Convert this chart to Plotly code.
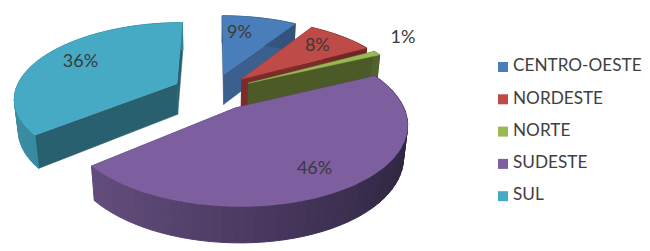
import math
import plotly.graph_objects as go

categories = ["CENTRO-OESTE", "NORDESTE", "NORTE", "SUDESTE", "SUL"]
values = [9, 8, 1, 46, 36]
labels = ["9%", "8%", "1%", "46%", "36%"]
top_colors = ["#4a7ebb", "#be4b48", "#98b954", "#7d5fa0", "#46aac4"]
face_colors = ["#3b608e", "#7b2c2a", "#4b5a26", "#3a2c4c", "#28606f"]
wall_left = ["#3f6a9e", "#9a3c3a", "#7a9644", "#6a5285", "#3a8da3"]
wall_right = ["#2f4b70", "#6a2524", "#4f5f2a", "#2e2440", "#2b7488"]
label_radius = [0.68, 0.74, 1.32, 0.78, 0.72]
label_turn = [-6, 0, -5, 2, 0]
draw_order = [4, 0, 1, 2, 3]

# projection settings
TILT = math.asin(0.46)
DIST, FOCAL = 5.0, 810
CX, CY = 213, 91.5
PULL, DEPTH = 0.25, 0.22


def project(px, py, pz):
    s, c = math.sin(TILT), math.cos(TILT)
    w = DIST + py * c - pz * s
    return CX + px * FOCAL / w, CY - (py * s + pz * c) * FOCAL / w


def hexmix(a, b, t):
    ca = [int(a[i:i + 2], 16) for i in (1, 3, 5)]
    cb = [int(b[i:i + 2], 16) for i in (1, 3, 5)]
    return "#" + "".join(f"{round(x + (y - x) * t):02x}" for x, y in zip(ca, cb))


def poly(fig, pts, color, width=0.5):
    fig.add_trace(go.Scatter(
        x=[p[0] for p in pts] + [pts[0][0]], y=[p[1] for p in pts] + [pts[0][1]],
        mode="lines", fill="toself", fillcolor=color, line=dict(color=color, width=width),
        hoverinfo="skip", showlegend=False))


fig = go.Figure()
total = sum(values)
starts, acc = [], 0
for v in values:
    starts.append(acc / total * 2 * math.pi)
    acc += v

for i in draw_order:
    a0 = starts[i]
    a1 = a0 + values[i] / total * 2 * math.pi
    mid = (a0 + a1) / 2
    ox, oy = PULL * math.sin(mid), PULL * math.cos(mid)
    rim = lambda a, z: project(ox + math.sin(a), oy + math.cos(a), z)
    apex = lambda z: project(ox, oy, z)
    # radial faces
    for a, in [(a0,), (a1,)]:
        poly(fig, [apex(0), rim(a, 0), rim(a, -DEPTH), apex(-DEPTH)], face_colors[i])
    # outer wall, shaded band by band
    n = max(2, int(math.degrees(a1 - a0) / 3))
    for k in range(n):
        b0 = a0 + (a1 - a0) * k / n
        b1 = a0 + (a1 - a0) * (k + 1) / n
        t = min(1.0, max(0.0, (1 + math.sin((b0 + b1) / 2)) / 2))
        poly(fig, [rim(b0, 0), rim(b1, 0), rim(b1, -DEPTH), rim(b0, -DEPTH)],
             hexmix(wall_left[i], wall_right[i], t), width=1)
    # top surface
    steps = max(4, int(math.degrees(a1 - a0)))
    pts = [apex(0)] + [rim(a0 + (a1 - a0) * k / steps, 0) for k in range(steps + 1)]
    poly(fig, pts, top_colors[i])

# data labels
lx, ly = [], []
for i in range(len(values)):
    mid = starts[i] + values[i] / total * math.pi
    ox, oy = PULL * math.sin(mid), PULL * math.cos(mid)
    r = label_radius[i]
    turned = mid + math.radians(label_turn[i])
    x, y = project(ox + r * math.sin(turned), oy + r * math.cos(turned), 0)
    lx.append(x)
    ly.append(y)
fig.add_trace(go.Scatter(x=lx, y=ly, mode="text", text=labels,
                         textfont=dict(family="Lato", size=18, color="#3a3a3a"),
                         hoverinfo="skip", showlegend=False))

# legend keys and names
LEG_X, LEG_TEXT_X, LEG_Y0, LEG_DY = 503, 513, 67, 32.3
leg_y = [LEG_Y0 + LEG_DY * k for k in range(5)]
fig.add_trace(go.Scatter(
    x=[LEG_X] * 5, y=leg_y, mode="markers",
    marker=dict(symbol="square", size=10, color=top_colors),
    hoverinfo="skip", showlegend=False))
fig.add_trace(go.Scatter(
    x=[LEG_TEXT_X] * 5, y=leg_y, mode="text",
    text=categories, textposition="middle right",
    textfont=dict(family="Lato", size=17.2, color="#404040"),
    hoverinfo="skip", showlegend=False))

fig.update_layout(
    width=650, height=251, margin=dict(l=0, r=0, t=0, b=0),
    paper_bgcolor="white", plot_bgcolor="white", showlegend=False,
    xaxis=dict(range=[0, 650], visible=False, fixedrange=True),
    yaxis=dict(range=[251, 0], visible=False, fixedrange=True),
)
fig.write_html("out.html", post_script="document.body.style.margin='0';",
               config={"displayModeBar": False})
